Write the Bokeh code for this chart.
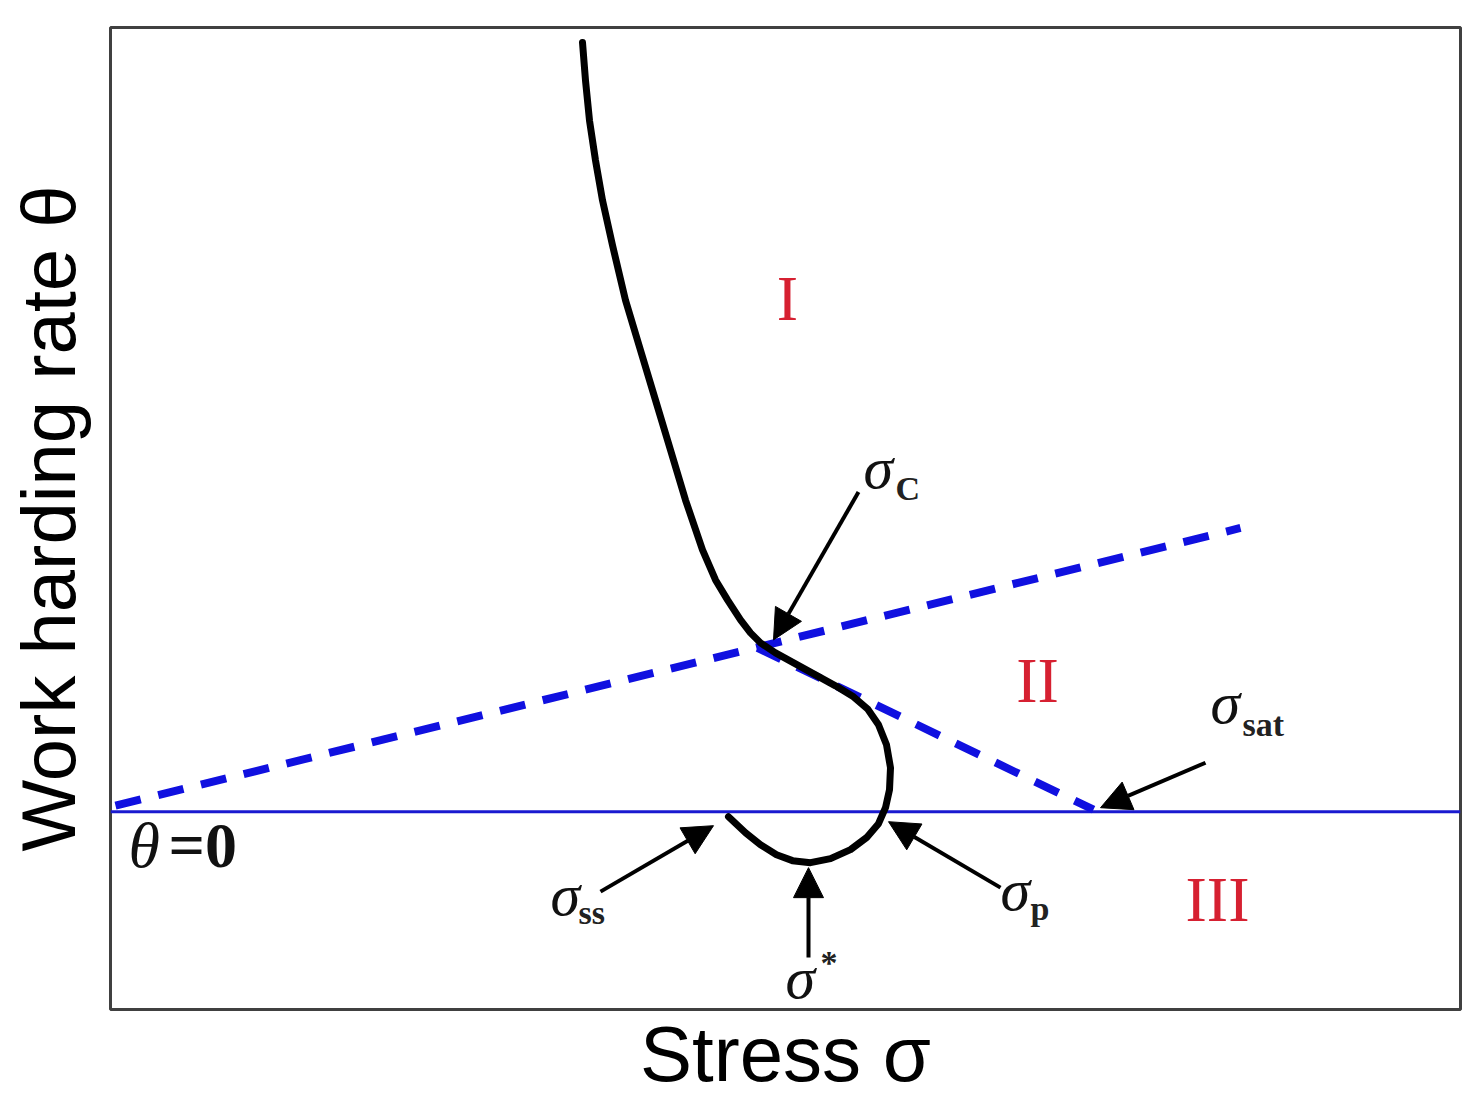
import math
from bokeh.plotting import figure
from bokeh.models import Range1d, Label, Arrow, NormalHead, LinearAxis, FixedTicker
from bokeh.embed import file_html
from bokeh.resources import INLINE

# ---- data (arbitrary stress / theta units read from the schematic) ----
# work-hardening rate curve
stress = [472, 475, 479, 485, 492, 502, 515, 530, 545, 560, 575, 592, 605, 617,
          630, 640, 650, 665, 685, 705, 725, 743, 757, 768, 776, 780, 779, 775,
          768, 756, 740, 720, 700, 682, 666, 650, 635, 618]
theta = [770, 732, 692, 652, 612, 567, 512, 462, 412, 362, 312, 262, 232, 212,
         192, 179, 169, 159, 148, 137, 126, 115, 103, 87, 67, 44, 22, 4,
         -12, -26, -38, -47, -51, -49, -43, -33, -21, -5]

# stage boundaries (dashed)
bound1_stress = [5, 1130]
bound1_theta = [6, 284]
bound2_stress = [647, 983]
bound2_theta = [164, 2]

# theta = 0 line
zero_stress = [0, 1350]
zero_theta = [0, 0]

# characteristic-point arrows: tail -> tip
arrow_tail_x = [748, 1095, 890, 698, 490]
arrow_tail_y = [320, 49, -76, -146, -80]
arrow_tip_x = [663, 990, 778, 698, 603]
arrow_tip_y = [172, 4, -10, -56, -14]

# sigma labels: symbol position and subscript/superscript
sig_x = [753, 1100, 890, 440, 675]
sig_y = [344, 109, -78, -83, -166]
sub_text = ["C", "sat", "p", "ss", "*"]
sub_x = [785, 1132, 920, 468, 710]
sub_y = [324, 87, -97, -101, -151]

# stage labels
stage_text = ["I", "II", "III"]
stage_x = [677, 927, 1107]
stage_y = [514, 131, -88]

X_RANGE = (0, 1350)
Y_RANGE = (-198, 785)

W, H = 1470, 1100
p = figure(width=W, height=H, output_backend="svg", toolbar_location=None,
           x_axis_type=None, y_axis_type=None,
           x_range=Range1d(*X_RANGE), y_range=Range1d(*Y_RANGE),
           min_border_left=110, min_border_right=W - 1460, min_border_top=27,
           min_border_bottom=H - 1010)
p.outline_line_color = "#404040"
p.outline_line_width = 3
p.background_fill_color = "white"


def make_axis(label, size, standoff):
    ax = LinearAxis(axis_label=label, ticker=FixedTicker(ticks=[]))
    ax.axis_line_color = None
    ax.major_tick_line_color = None
    ax.minor_tick_line_color = None
    ax.major_label_text_font_size = "0px"
    ax.major_label_standoff = 0
    ax.major_tick_out = 0
    ax.major_tick_in = 0
    ax.axis_label_standoff = standoff
    ax.axis_label_text_font = "Liberation Sans"
    ax.axis_label_text_font_size = size
    ax.axis_label_text_font_style = "normal"
    ax.axis_label_text_color = "black"
    return ax


p.add_layout(make_axis("Stress σ", "78px", 0), "below")
p.add_layout(make_axis("Work harding rate θ", "76px", 20), "left")

BLUE = "#1010e0"
SERIF = "Liberation Serif"

p.line(zero_stress, zero_theta, line_color="#1a1ad0", line_width=3)
p.line(bound1_stress, bound1_theta, line_color=BLUE, line_width=8, line_dash="26 18")
p.line(bound2_stress, bound2_theta, line_color=BLUE, line_width=8, line_dash="26 18")
p.line(stress, theta, line_color="black", line_width=7, line_join="round", line_cap="round")

for xs, ys, xe, ye in zip(arrow_tail_x, arrow_tail_y, arrow_tip_x, arrow_tip_y):
    p.add_layout(Arrow(end=NormalHead(size=30, fill_color="black", line_color="black"),
                       x_start=xs, y_start=ys, x_end=xe, y_end=ye,
                       line_color="black", line_width=4))

for sx, sy, t, ux, uy in zip(sig_x, sig_y, sub_text, sub_x, sub_y):
    p.add_layout(Label(x=sx, y=sy, text="σ", text_font=SERIF, text_font_style="italic",
                       text_font_size="60px", text_color="#111111",
                       text_align="left", text_baseline="alphabetic"))
    p.add_layout(Label(x=ux, y=uy, text=t, text_font=SERIF, text_font_style="bold",
                       text_font_size="34px", text_color="#222222",
                       text_align="left", text_baseline="alphabetic"))

for t, sx, sy in zip(stage_text, stage_x, stage_y):
    p.add_layout(Label(x=sx, y=sy, text=t, text_font=SERIF, text_font_size="64px",
                       text_color="#d62031", text_align="center",
                       text_baseline="alphabetic"))

# theta = 0 annotation
p.add_layout(Label(x=18, y=-34, text="θ", text_font=SERIF, text_font_style="italic",
                   text_font_size="64px", text_color="#111111",
                   text_align="left", text_baseline="alphabetic"))
p.add_layout(Label(x=58, y=-34, text="=0", text_font=SERIF, text_font_style="bold",
                   text_font_size="64px", text_color="#111111",
                   text_align="left", text_baseline="alphabetic"))

open("out.html", "w").write(file_html(p, INLINE))
